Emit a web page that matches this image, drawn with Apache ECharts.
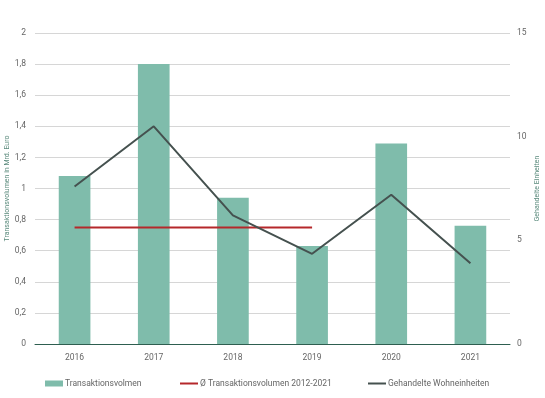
<!DOCTYPE html>
<html>
<head>
<meta charset="utf-8">
<script src="https://cdn.jsdelivr.net/npm/echarts@6/dist/echarts.min.js"></script>
<style>
  html, body { margin: 0; padding: 0; background: #fff; }
  #main { width: 545px; height: 398px; }
</style>
</head>
<body>
<div id="main"></div>
<script>
// data
const years = ['2016', '2017', '2018', '2019', '2020', '2021'];
const volumen = [1.08, 1.80, 0.94, 0.63, 1.29, 0.76];
const avgVolumen = [0.75, 0.75, 0.75, 0.75, null, null];
const einheiten = [7.6, 10.5, 6.2, 4.35, 7.2, 3.9];

const font = 'Roboto';
const grey = '#666666';
const green = '#7fbcab';
const red = '#b5282b';
const dark = '#45514f';

const chart = echarts.init(document.getElementById('main'));
chart.setOption({
  textStyle: { fontFamily: font },
  animation: false,
  grid: { left: 35, right: 35, top: 33, bottom: 54, outerBoundsMode: 'none', containLabel: false },
  legend: [
    {
      left: 40, top: 374, itemWidth: 18, itemHeight: 6, itemGap: 2,
      textStyle: { color: grey, fontSize: 8.5, padding: [0, 0, 0, -3] },
      data: [{ name: 'Transaktionsvolmen', icon: 'rect' }]
    },
    {
      left: 175, top: 374, itemWidth: 18, itemHeight: 2,
      textStyle: { color: grey, fontSize: 8.5, padding: [0, 0, 0, -3] },
      data: [{ name: 'Ø Transaktionsvolumen 2012-2021', icon: 'rect' }]
    },
    {
      left: 363, top: 374, itemWidth: 18, itemHeight: 2,
      textStyle: { color: grey, fontSize: 8.5, padding: [0, 0, 0, -3] },
      data: [{ name: 'Gehandelte Wohneinheiten', icon: 'rect' }]
    }
  ],
  xAxis: {
    type: 'category',
    data: years,
    axisLine: { lineStyle: { color: '#2e5e50', width: 1 } },
    axisTick: { show: false },
    axisLabel: { color: grey, fontSize: 8.5, margin: 9 }
  },
  yAxis: [
    {
      type: 'value',
      min: 0, max: 2, interval: 0.2,
      name: 'Transaktionsvolumen in Mrd. Euro',
      nameLocation: 'middle',
      nameGap: 24,
      nameMoveOverlap: false,
      nameTextStyle: { color: '#5a8a7c', fontSize: 7 },
      axisLine: { show: false },
      axisTick: { show: false },
      axisLabel: {
        color: grey, fontSize: 8.5, margin: 9,
        formatter: v => String(Math.round(v * 10) / 10).replace('.', ',')
      },
      splitLine: { lineStyle: { color: '#d6d6d6', width: 1 } }
    },
    {
      type: 'value',
      min: 0, max: 15, interval: 5,
      name: 'Gehandelte Einheiten',
      nameLocation: 'middle',
      nameGap: 24,
      nameRotate: 90,
      nameMoveOverlap: false,
      nameTextStyle: { color: '#5a8a7c', fontSize: 7 },
      axisLine: { show: false },
      axisTick: { show: false },
      axisLabel: { color: grey, fontSize: 8.5, margin: 7 },
      splitLine: { show: false }
    }
  ],
  series: [
    {
      name: 'Transaktionsvolmen',
      type: 'bar',
      data: volumen,
      barWidth: '40%',
      itemStyle: { color: green },
      z: 1
    },
    {
      name: 'Ø Transaktionsvolumen 2012-2021',
      type: 'line',
      data: avgVolumen,
      symbol: 'none',
      lineStyle: { color: red, width: 2 },
      itemStyle: { color: red },
      z: 3
    },
    {
      name: 'Gehandelte Wohneinheiten',
      type: 'line',
      yAxisIndex: 1,
      data: einheiten,
      symbol: 'none',
      lineStyle: { color: dark, width: 2 },
      itemStyle: { color: dark },
      z: 4
    }
  ]
});
</script>
</body>
</html>
